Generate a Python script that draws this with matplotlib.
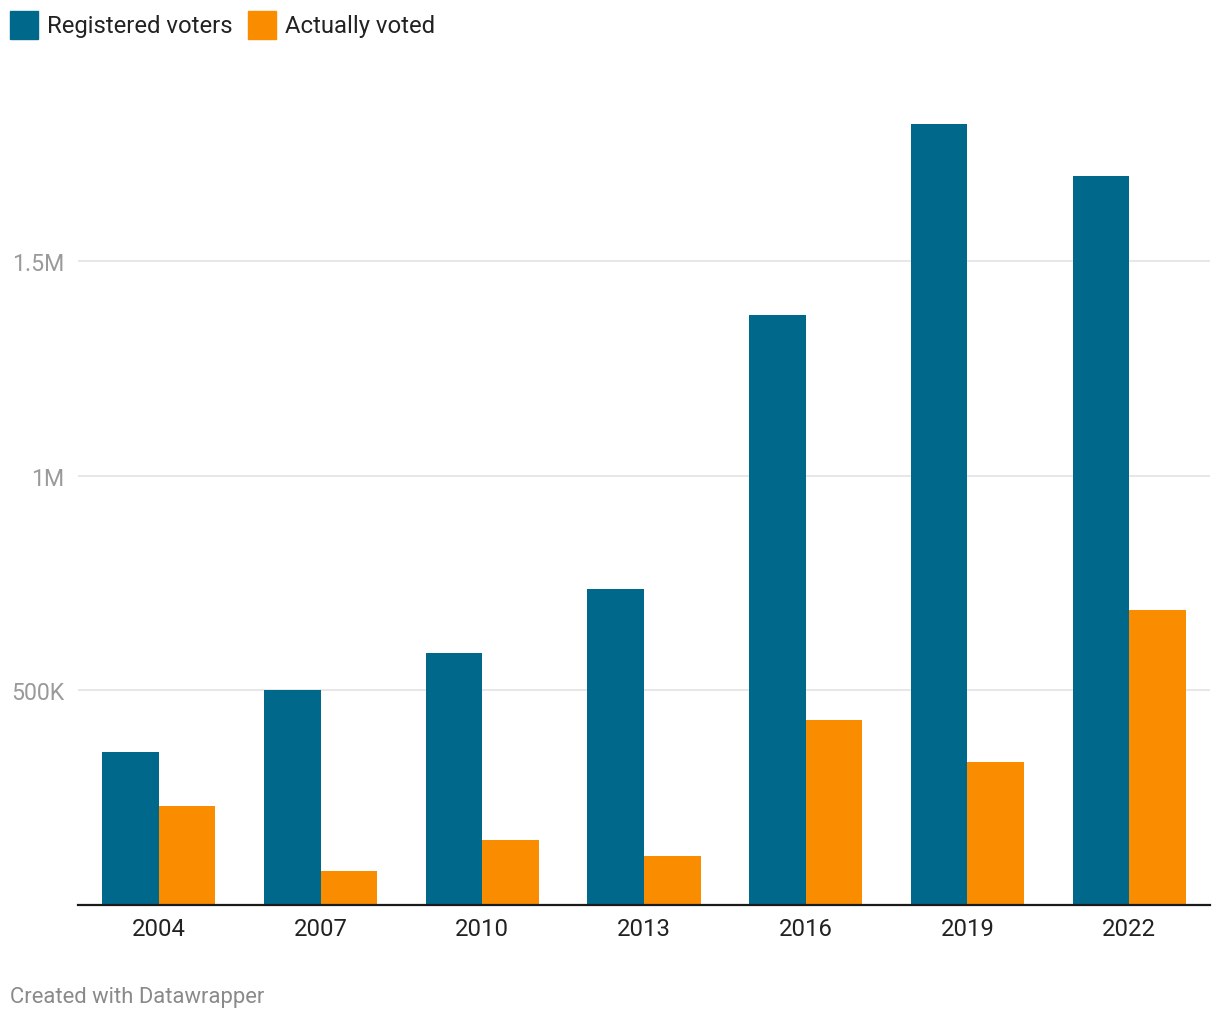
import matplotlib
matplotlib.use("Agg")
import matplotlib.pyplot as plt
import numpy as np

plt.rcParams['font.family'] = ['Roboto', 'DejaVu Sans']

years = ["2004", "2007", "2010", "2013", "2016", "2019", "2022"]
registered = [357000, 501000, 587000, 737000, 1375000, 1820000, 1697000]
voted = [231000, 79000, 152000, 114000, 431000, 333000, 688000]
series_names = ["Registered voters", "Actually voted"]
colors = ["#00688a", "#fa8c00"]
yticks = [500000, 1000000, 1500000]
ytick_labels = ["500K", "1M", "1.5M"]

W, H = 1220, 1020
fig = plt.figure(figsize=(W / 100, H / 100), dpi=100)

left, right, bottom, top = 78, 1210, 906, 60
ax = fig.add_axes([left / W, 1 - bottom / H, (right - left) / W, (bottom - top) / H])

x = np.arange(len(years))
bw = 0.35
ax.bar(x - bw / 2, registered, width=bw, color=colors[0], zorder=3, linewidth=0)
ax.bar(x + bw / 2, voted, width=bw, color=colors[1], zorder=3, linewidth=0)

ax.set_xlim(-0.5, len(years) - 0.5)
ymax = 1500000 * (bottom - top) / (906 - 262)
ax.set_ylim(0, ymax)

for s in ["top", "right", "left"]:
    ax.spines[s].set_visible(False)
ax.spines["bottom"].set_color("#1a1a1a")
ax.spines["bottom"].set_linewidth(1.6)
ax.spines["bottom"].set_zorder(4)

ax.set_yticks(yticks)
ax.set_yticklabels(ytick_labels)
ax.yaxis.grid(True, color="#e3e3e3", linewidth=1.2, zorder=0)
ax.tick_params(axis="y", length=0, pad=10, labelsize=16.7, labelcolor="#9a9a9a")
ax.set_xticks(x)
ax.set_xticklabels(years)
ax.tick_params(axis="x", length=0, pad=9, labelsize=17.2, labelcolor="#222222")

def px2fig(px, py):
    return px / W, 1 - py / H

sq = 28
for name, col, lx in zip(series_names, colors, [10, 248]):
    fx, fy = px2fig(lx, 40)
    fig.patches.append(plt.Rectangle((fx, fy), sq / W, sq / H, transform=fig.transFigure,
                                     color=col, figure=fig))
    tx, ty = px2fig(lx + 37, 27)
    fig.text(tx, ty, name, fontsize=17.2, color="#222222", va="center", ha="left")

fx, fy = px2fig(10, 998)
fig.text(fx, fy, "Created with Datawrapper", fontsize=15.8, color="#8a8a8a", va="center", ha="left")

fig.savefig("out.png", dpi=100, facecolor="white")
